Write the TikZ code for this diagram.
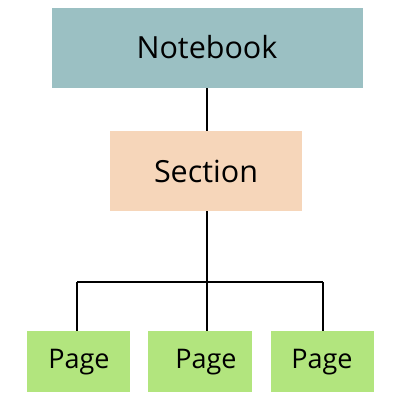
\documentclass[tikz,border=0pt]{standalone}
\usepackage{fontspec}
\setmainfont{Open Sans}
\definecolor{nbcol}{HTML}{9BC0C3}
\definecolor{seccol}{HTML}{F6D6BA}
\definecolor{pagecol}{HTML}{B2E57E}
\tikzset{
  box/.style={draw=none, inner sep=0pt, outer sep=0pt, anchor=north west},
  lbl/.style={inner sep=0pt, font=\fontsize{30.5}{36}\selectfont},
  plbl/.style={inner sep=0pt, font=\fontsize{27}{32}\selectfont},
  conn/.style={line width=2pt, black}
}
\begin{document}
\begin{tikzpicture}[x=1pt,y=-1pt]
\useasboundingbox (0,0) rectangle (400,400);
\fill[white] (0,0) rectangle (400,400);
\node[box, fill=nbcol, minimum width=311pt, minimum height=80pt] (nb) at (52,8) {};
\node[box, fill=seccol, minimum width=192pt, minimum height=80pt] (sec) at (110,131) {};
\node[box, fill=pagecol, minimum width=103pt, minimum height=61pt] (p1) at (27,331) {};
\node[box, fill=pagecol, minimum width=104pt, minimum height=61pt] (p2) at (148,331) {};
\node[box, fill=pagecol, minimum width=103pt, minimum height=61pt] (p3) at (271,331) {};
\node[lbl] (tnb) at (207,47) {Notebook};
\node[lbl] (tsec) at (206,171) {Section};
\node[plbl] (t1) at (79,362) {Page};
\node[plbl] (t2) at (206,362) {Page};
\node[plbl] (t3) at (322,362) {Page};
\coordinate (j) at (207,282);
\coordinate (jl) at (77,282);
\coordinate (jr) at (323,282);
\draw[conn] (nb.south -| j) -- (sec.north -| j);
\draw[conn] (sec.south -| j) -- (j);
\draw[conn] (jl) -- (jr);
\draw[conn] (jl) -- (jl |- p1.north);
\draw[conn] (j) -- (j |- p2.north);
\draw[conn] (jr) -- (jr |- p3.north);
\end{tikzpicture}
\end{document}
